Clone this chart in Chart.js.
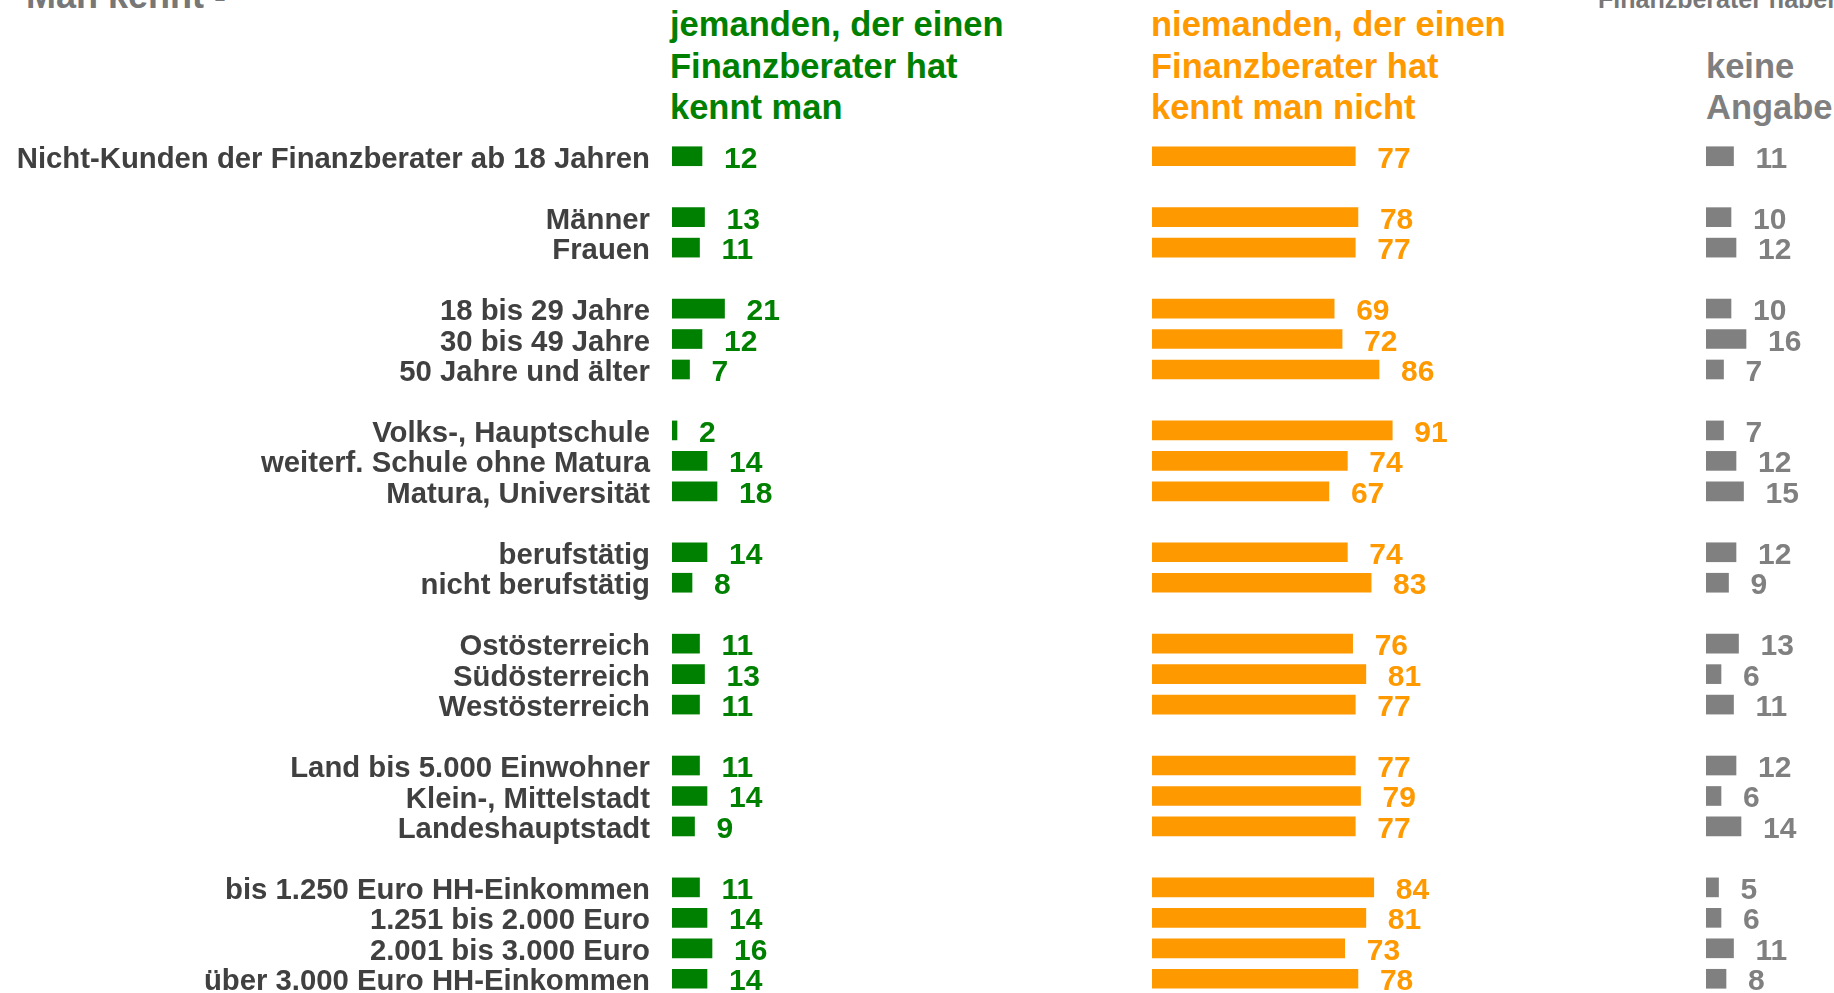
<!DOCTYPE html>
<html>
<head>
<meta charset="utf-8">
<script src="https://cdn.jsdelivr.net/npm/chart.js@4/dist/chart.umd.min.js"></script>
<style>
  html, body { margin:0; padding:0; width:1834px; height:993px; overflow:hidden; background:#fff; }
  body { position:relative; font-family:"Liberation Sans", Arial, sans-serif; font-weight:bold; }
  .t { position:absolute; white-space:nowrap; }
  .hdr { font-size:34.5px; line-height:41.5px; top:4px; }
  .c { position:absolute; }
</style>
</head>
<body>
<div class="t" style="left:26px; top:-25px; font-size:36px; line-height:42px; color:#777777;">Man kennt -</div>
<div class="t" style="left:1598px; top:-16px; font-size:25px; line-height:30px; color:#777777;">Finanzberater haben</div>
<div class="t hdr" style="left:670px; color:#008000;">jemanden, der einen<br>Finanzberater hat<br>kennt man</div>
<div class="t hdr" style="left:1151px; color:#FF9900;">niemanden, der einen<br>Finanzberater hat<br>kennt man nicht</div>
<div class="t hdr" style="left:1706px; color:#7F7F7F;"><br>keine<br>Angabe</div>

<div class="c" style="left:0px; top:141px; width:922px; height:853px;"><canvas id="c1" width="922" height="853"></canvas></div>
<div class="c" style="left:1152px; top:141px; width:400px; height:853px;"><canvas id="c2" width="400" height="853"></canvas></div>
<div class="c" style="left:1706px; top:141px; width:128px; height:853px;"><canvas id="c3" width="128" height="853"></canvas></div>

<script>
const categories = [
  'Nicht-Kunden der Finanzberater ab 18 Jahren', '',
  'Männer', 'Frauen', '',
  '18 bis 29 Jahre', '30 bis 49 Jahre', '50 Jahre und älter', '',
  'Volks-, Hauptschule', 'weiterf. Schule ohne Matura', 'Matura, Universität', '',
  'berufstätig', 'nicht berufstätig', '',
  'Ostösterreich', 'Südösterreich', 'Westösterreich', '',
  'Land bis 5.000 Einwohner', 'Klein-, Mittelstadt', 'Landeshauptstadt', '',
  'bis 1.250 Euro HH-Einkommen', '1.251 bis 2.000 Euro', '2.001 bis 3.000 Euro', 'über 3.000 Euro HH-Einkommen'
];
const kenntMan = [12, null, 13, 11, null, 21, 12, 7, null, 2, 14, 18, null, 14, 8, null, 11, 13, 11, null, 11, 14, 9, null, 11, 14, 16, 14];
const kenntManNicht = [77, null, 78, 77, null, 69, 72, 86, null, 91, 74, 67, null, 74, 83, null, 76, 81, 77, null, 77, 79, 77, null, 84, 81, 73, 78];
const keineAngabe = [11, null, 10, 12, null, 10, 16, 7, null, 7, 12, 15, null, 12, 9, null, 13, 6, 11, null, 12, 6, 14, null, 5, 6, 11, 8];

const FONT = '"Liberation Sans", Arial, sans-serif';

const valueLabels = {
  id: 'valueLabels',
  afterDatasetsDraw(chart) {
    const ctx = chart.ctx;
    ctx.save();
    ctx.font = 'bold 30px ' + FONT;
    ctx.textAlign = 'left';
    ctx.textBaseline = 'alphabetic';
    chart.data.datasets.forEach((ds, di) => {
      const meta = chart.getDatasetMeta(di);
      ctx.fillStyle = ds.labelColor;
      meta.data.forEach((bar, i) => {
        const v = ds.data[i];
        if (v === null || v === undefined) return;
        ctx.fillText(String(v), bar.x + 22, bar.y + 11.5);
      });
    });
    ctx.restore();
  }
};

function makeChart(id, values, color, labelColor, xMax, showLabels) {
  return new Chart(document.getElementById(id), {
    type: 'bar',
    data: {
      labels: categories,
      datasets: [{
        data: values,
        backgroundColor: color,
        labelColor: labelColor,
        borderWidth: 0,
        barThickness: 19
      }]
    },
    options: {
      indexAxis: 'y',
      responsive: false,
      animation: false,
      layout: { padding: 0 },
      plugins: { legend: { display: false }, tooltip: { enabled: false } },
      scales: {
        x: { display: false, min: 0, max: xMax },
        y: {
          display: showLabels,
          grid: { display: false, drawTicks: false },
          border: { display: false },
          ticks: {
            autoSkip: false,
            padding: 22,
            labelOffset: 3.5,
            color: '#404040',
            font: { family: FONT, size: 29.3, weight: 'bold', lineHeight: 1 }
          },
          afterFit(scale) {
            if (showLabels) scale.width = 672;
            scale.paddingTop = 0;
            scale.paddingBottom = 0;
          }
        }
      }
    },
    plugins: [valueLabels]
  });
}

makeChart('c1', kenntMan, '#008000', '#008000', 250 / 2.5, true);
makeChart('c2', kenntManNicht, '#FF9900', '#FF9900', 400 / 2.64, false);
makeChart('c3', keineAngabe, '#808080', '#808080', 128 / 2.5, false);
</script>
</body>
</html>
